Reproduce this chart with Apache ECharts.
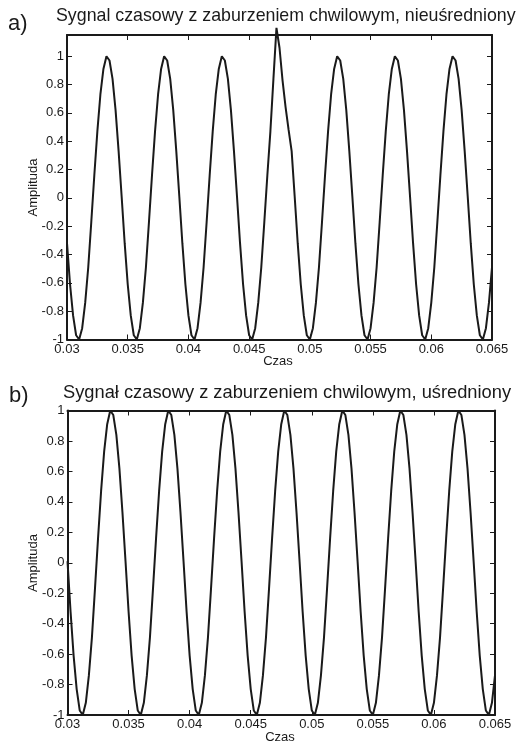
<!DOCTYPE html>
<html>
<head>
<meta charset="utf-8">
<script src="https://cdn.jsdelivr.net/npm/echarts@6/dist/echarts.min.js"></script>
<style>
  html, body { margin: 0; padding: 0; background: #fff; }
  #chart { width: 521px; height: 742px; }
</style>
</head>
<body>
<div id="chart"></div>
<script>
// sample times (s)
const times = [
  0.03, 0.03025, 0.0305, 0.03075,
  0.031, 0.03125, 0.0315, 0.03175,
  0.032, 0.03225, 0.0325, 0.03275,
  0.033, 0.03325, 0.0335, 0.03375,
  0.034, 0.03425, 0.0345, 0.03475,
  0.035, 0.03525, 0.0355, 0.03575,
  0.036, 0.03625, 0.0365, 0.03675,
  0.037, 0.03725, 0.0375, 0.03775,
  0.038, 0.03825, 0.0385, 0.03875,
  0.039, 0.03925, 0.0395, 0.03975,
  0.04, 0.04025, 0.0405, 0.04075,
  0.041, 0.04125, 0.0415, 0.04175,
  0.042, 0.04225, 0.0425, 0.04275,
  0.043, 0.04325, 0.0435, 0.04375,
  0.044, 0.04425, 0.0445, 0.04475,
  0.045, 0.04525, 0.0455, 0.04575,
  0.046, 0.04625, 0.0465, 0.04675,
  0.047, 0.04725, 0.0475, 0.04775,
  0.048, 0.04825, 0.0485, 0.04875,
  0.049, 0.04925, 0.0495, 0.04975,
  0.05, 0.05025, 0.0505, 0.05075,
  0.051, 0.05125, 0.0515, 0.05175,
  0.052, 0.05225, 0.0525, 0.05275,
  0.053, 0.05325, 0.0535, 0.05375,
  0.054, 0.05425, 0.0545, 0.05475,
  0.055, 0.05525, 0.0555, 0.05575,
  0.056, 0.05625, 0.0565, 0.05675,
  0.057, 0.05725, 0.0575, 0.05775,
  0.058, 0.05825, 0.0585, 0.05875,
  0.059, 0.05925, 0.0595, 0.05975,
  0.06, 0.06025, 0.0605, 0.06075,
  0.061, 0.06125, 0.0615, 0.06175,
  0.062, 0.06225, 0.0625, 0.06275,
  0.063, 0.06325, 0.0635, 0.06375,
  0.064, 0.06425, 0.0645, 0.06475,
  0.065
];

// a) raw signal with the short disturbance near 0.0473 s
const amplitudeRaw = [
  -0.32, -0.61, -0.83, -0.97, -1.00, -0.92, -0.74, -0.49, -0.17, 0.16, 0.47, 0.73, 0.91, 1.00, 0.97, 0.84, 0.62, 0.33, 0.01,
  -0.32, -0.61, -0.83, -0.97, -1.00, -0.92, -0.74, -0.49, -0.17, 0.16, 0.47, 0.73, 0.91, 1.00, 0.97, 0.84, 0.62, 0.33, 0.01,
  -0.32, -0.61, -0.83, -0.97, -1.00, -0.92, -0.74, -0.49, -0.17, 0.16, 0.47, 0.73, 0.91, 1.00, 0.97, 0.84, 0.62, 0.33, 0.01,
  -0.32, -0.61, -0.83, -0.97, -1.00, -0.92, -0.74, -0.49, -0.17, 0.16, 0.47, 0.84, 1.20, 1.06, 0.83, 0.64, 0.48, 0.33, 0.01,
  -0.32, -0.61, -0.83, -0.97, -1.00, -0.92, -0.74, -0.49, -0.17, 0.16, 0.47, 0.73, 0.91, 1.00, 0.97, 0.84, 0.62, 0.33, 0.01,
  -0.32, -0.61, -0.83, -0.97, -1.00, -0.92, -0.74, -0.49, -0.17, 0.16, 0.47, 0.73, 0.91, 1.00, 0.97, 0.84, 0.62, 0.33, 0.01,
  -0.32, -0.61, -0.83, -0.97, -1.00, -0.92, -0.74, -0.49, -0.17, 0.16, 0.47, 0.73, 0.91, 1.00, 0.97, 0.84, 0.62, 0.33, 0.01,
  -0.32, -0.61, -0.83, -0.97, -1.00, -0.92, -0.74, -0.49
];

// b) averaged signal
const amplitudeAvg = [
  0.01,
  -0.32, -0.61, -0.83, -0.97, -1.00, -0.92, -0.74, -0.49, -0.17, 0.16, 0.47, 0.73, 0.91, 1.00, 0.97, 0.84, 0.62, 0.33, 0.01,
  -0.32, -0.61, -0.83, -0.97, -1.00, -0.92, -0.74, -0.49, -0.17, 0.16, 0.47, 0.73, 0.91, 1.00, 0.97, 0.84, 0.62, 0.33, 0.01,
  -0.32, -0.61, -0.83, -0.97, -1.00, -0.92, -0.74, -0.49, -0.17, 0.16, 0.47, 0.73, 0.91, 1.00, 0.97, 0.84, 0.62, 0.33, 0.01,
  -0.32, -0.61, -0.83, -0.97, -1.00, -0.92, -0.74, -0.49, -0.17, 0.16, 0.47, 0.73, 0.91, 1.00, 0.97, 0.84, 0.62, 0.33, 0.01,
  -0.32, -0.61, -0.83, -0.97, -1.00, -0.92, -0.74, -0.49, -0.17, 0.16, 0.47, 0.73, 0.91, 1.00, 0.97, 0.84, 0.62, 0.33, 0.01,
  -0.32, -0.61, -0.83, -0.97, -1.00, -0.92, -0.74, -0.49, -0.17, 0.16, 0.47, 0.73, 0.91, 1.00, 0.97, 0.84, 0.62, 0.33, 0.01,
  -0.32, -0.61, -0.83, -0.97, -1.00, -0.92, -0.74, -0.49, -0.17, 0.16, 0.47, 0.73, 0.91, 1.00, 0.97, 0.84, 0.62, 0.33, 0.01,
  -0.32, -0.61, -0.83, -0.97, -1.00, -0.92, -0.74
];

const xRange = [0.03, 0.065];
const xStep = 0.005;
const yRangeRaw = [-1, 1.15];
const yRangeAvg = [-1, 1];
const yStep = 0.2;

const titles = [
  'Sygnal czasowy z zaburzeniem chwilowym, nieuśredniony',
  'Sygnał czasowy z zaburzeniem chwilowym, uśredniony'
];

const ink = '#1a1a1a';
const font = '"Liberation Sans", Arial, sans-serif';

const chart = echarts.init(document.getElementById('chart'));

function xAxes(gridIndex) {
  const base = {
    type: 'value',
    gridIndex: gridIndex,
    min: xRange[0],
    max: xRange[1],
    interval: xStep,
    splitLine: { show: false },
    axisLine: { show: true, onZero: false, lineStyle: { color: ink, width: 2 } },
    axisTick: { show: true, inside: true, length: 5, lineStyle: { color: ink, width: 1 } }
  };
  return [
    Object.assign({}, base, {
      position: 'bottom',
      axisLabel: {
        color: ink, fontSize: 13, fontFamily: font, margin: 3,
        formatter: v => String(+v.toFixed(3))
      }
    }),
    Object.assign({}, base, { position: 'top', axisLabel: { show: false } })
  ];
}

function yAxes(gridIndex, range) {
  const base = {
    type: 'value',
    gridIndex: gridIndex,
    min: range[0],
    max: range[1],
    interval: yStep,
    splitLine: { show: false },
    axisLine: { show: true, onZero: false, lineStyle: { color: ink, width: 2 } },
    axisTick: { show: true, inside: true, length: 5, lineStyle: { color: ink, width: 1 } }
  };
  return [
    Object.assign({}, base, {
      position: 'left',
      axisLabel: {
        color: ink, fontSize: 13, fontFamily: font, margin: 3,
        formatter: v => (v > 1.01 ? '' : String(+v.toFixed(1)))
      }
    }),
    Object.assign({}, base, { position: 'right', axisLabel: { show: false } })
  ];
}

function label(text, x, y, size, align, rotation) {
  return {
    type: 'text',
    x: x,
    y: y,
    rotation: rotation || 0,
    style: {
      text: text,
      font: size + 'px ' + font,
      fill: ink,
      textAlign: align || 'left',
      textVerticalAlign: 'middle'
    }
  };
}

chart.setOption({
  animation: false,
  backgroundColor: '#fff',
  grid: [
    { left: 67, top: 35, width: 425, height: 304.5 },
    { left: 67.5, top: 410.5, width: 427.5, height: 304.5 }
  ],
  xAxis: xAxes(0).concat(xAxes(1)),
  yAxis: yAxes(0, yRangeRaw).concat(yAxes(1, yRangeAvg)),
  series: [
    {
      type: 'line',
      xAxisIndex: 0,
      yAxisIndex: 0,
      data: times.map((t, i) => [t, amplitudeRaw[i]]),
      symbol: 'none',
      clip: false,
      lineStyle: { color: ink, width: 2 }
    },
    {
      type: 'line',
      xAxisIndex: 2,
      yAxisIndex: 2,
      data: times.map((t, i) => [t, amplitudeAvg[i]]),
      symbol: 'none',
      clip: false,
      lineStyle: { color: ink, width: 2 }
    }
  ],
  graphic: [
    label('a)', 8, 24, 22),
    label(titles[0], 56, 16.5, 17.8),
    label('b)', 9, 396, 22),
    label(titles[1], 63, 392.5, 18.3),
    label('Amplituda', 33, 187.5, 13, 'center', Math.PI / 2),
    label('Amplituda', 33, 563, 13, 'center', Math.PI / 2),
    label('Czas', 278, 361.7, 13, 'center'),
    label('Czas', 280, 737.7, 13, 'center')
  ]
});
</script>
</body>
</html>
